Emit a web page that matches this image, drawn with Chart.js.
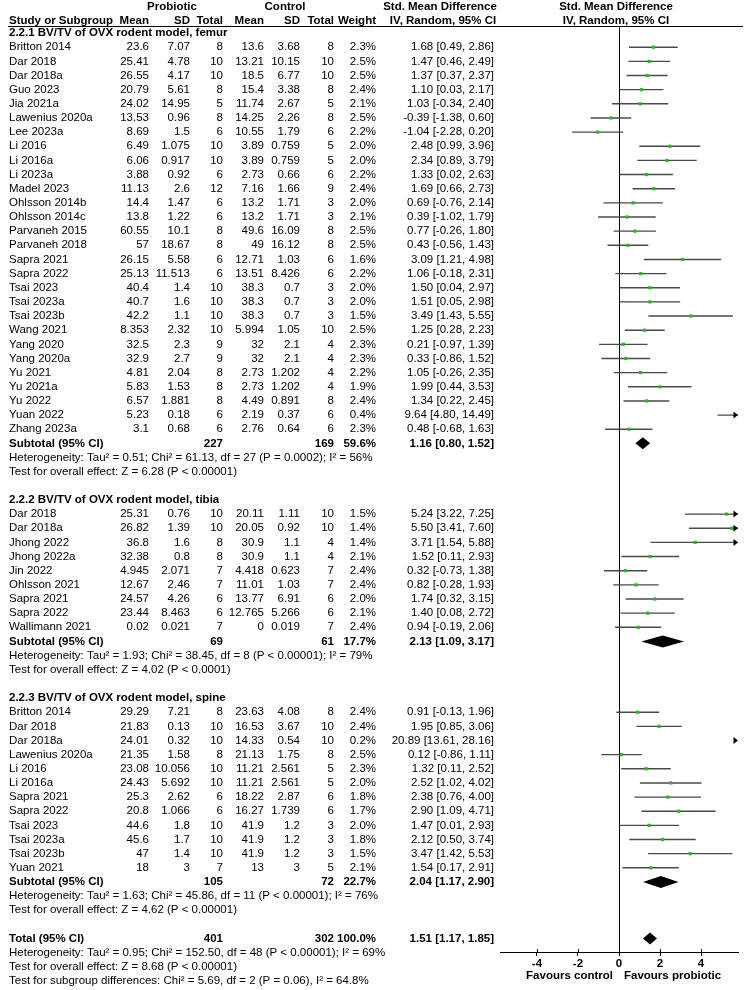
<!DOCTYPE html>
<html>
<head>
<meta charset="utf-8">
<script src="https://cdn.jsdelivr.net/npm/chart.js@4/dist/chart.umd.min.js"></script>
<style>
  html, body { margin: 0; padding: 0; background: #fff; }
  canvas { display: block; }
</style>
</head>
<body>
<canvas id="forest" width="749" height="990"></canvas>
<script>
// ---- values ----
const subgroupTitles = ["2.2.1 BV/TV of OVX rodent model, femur", "2.2.2 BV/TV of OVX rodent model, tibia", "2.2.3 BV/TV of OVX rodent model, spine"];

const femurStudy = ["Britton 2014", "Dar 2018", "Dar 2018a", "Guo 2023", "Jia 2021a", "Lawenius 2020a", "Lee 2023a", "Li 2016", "Li 2016a", "Li 2023a", "Madel 2023", "Ohlsson 2014b", "Ohlsson 2014c", "Parvaneh 2015", "Parvaneh 2018", "Sapra 2021", "Sapra 2022", "Tsai 2023", "Tsai 2023a", "Tsai 2023b", "Wang 2021", "Yang 2020", "Yang 2020a", "Yu 2021", "Yu 2021a", "Yu 2022", "Yuan 2022", "Zhang 2023a"];
const femurProbMean = [23.6, 25.41, 26.55, 20.79, 24.02, 13.53, 8.69, 6.49, 6.06, 3.88, 11.13, 14.4, 13.8, 60.55, 57, 26.15, 25.13, 40.4, 40.7, 42.2, 8.353, 32.5, 32.9, 4.81, 5.83, 6.57, 5.23, 3.1];
const femurProbSD = [7.07, 4.78, 4.17, 5.61, 14.95, 0.96, 1.5, 1.075, 0.917, 0.92, 2.6, 1.47, 1.22, 10.1, 18.67, 5.58, 11.513, 1.4, 1.6, 1.1, 2.32, 2.3, 2.7, 2.04, 1.53, 1.881, 0.18, 0.68];
const femurProbN = [8, 10, 10, 8, 5, 8, 6, 10, 10, 6, 12, 6, 6, 8, 8, 6, 6, 10, 10, 10, 10, 9, 9, 8, 8, 8, 6, 6];
const femurCtrlMean = [13.6, 13.21, 18.5, 15.4, 11.74, 14.25, 10.55, 3.89, 3.89, 2.73, 7.16, 13.2, 13.2, 49.6, 49, 12.71, 13.51, 38.3, 38.3, 38.3, 5.994, 32, 32, 2.73, 2.73, 4.49, 2.19, 2.76];
const femurCtrlSD = [3.68, 10.15, 6.77, 3.38, 2.67, 2.26, 1.79, 0.759, 0.759, 0.66, 1.66, 1.71, 1.71, 16.09, 16.12, 1.03, 8.426, 0.7, 0.7, 0.7, 1.05, 2.1, 2.1, 1.202, 1.202, 0.891, 0.37, 0.64];
const femurCtrlN = [8, 10, 10, 8, 5, 8, 6, 5, 5, 6, 9, 3, 3, 8, 8, 6, 6, 3, 3, 3, 10, 4, 4, 4, 4, 8, 6, 6];
const femurWeight = [2.3, 2.5, 2.5, 2.4, 2.1, 2.5, 2.2, 2.0, 2.0, 2.2, 2.4, 2.0, 2.1, 2.5, 2.5, 1.6, 2.2, 2.0, 2.0, 1.5, 2.5, 2.3, 2.3, 2.2, 1.9, 2.4, 0.4, 2.3];
const femurSMD = [1.68, 1.47, 1.37, 1.10, 1.03, -0.39, -1.04, 2.48, 2.34, 1.33, 1.69, 0.69, 0.39, 0.77, 0.43, 3.09, 1.06, 1.50, 1.51, 3.49, 1.25, 0.21, 0.33, 1.05, 1.99, 1.34, 9.64, 0.48];
const femurLow = [0.49, 0.46, 0.37, 0.03, -0.34, -1.38, -2.28, 0.99, 0.89, 0.02, 0.66, -0.76, -1.02, -0.26, -0.56, 1.21, -0.18, 0.04, 0.05, 1.43, 0.28, -0.97, -0.86, -0.26, 0.44, 0.22, 4.80, -0.68];
const femurHigh = [2.86, 2.49, 2.37, 2.17, 2.40, 0.60, 0.20, 3.96, 3.79, 2.63, 2.73, 2.14, 1.79, 1.80, 1.43, 4.98, 2.31, 2.97, 2.98, 5.55, 2.23, 1.39, 1.52, 2.35, 3.53, 2.45, 14.49, 1.63];

const tibiaStudy = ["Dar 2018", "Dar 2018a", "Jhong 2022", "Jhong 2022a", "Jin 2022", "Ohlsson 2021", "Sapra 2021", "Sapra 2022", "Wallimann 2021"];
const tibiaProbMean = [25.31, 26.82, 36.8, 32.38, 4.945, 12.67, 24.57, 23.44, 0.02];
const tibiaProbSD = [0.76, 1.39, 1.6, 0.8, 2.071, 2.46, 4.26, 8.463, 0.021];
const tibiaProbN = [10, 10, 8, 8, 7, 7, 6, 6, 7];
const tibiaCtrlMean = [20.11, 20.05, 30.9, 30.9, 4.418, 11.01, 13.77, 12.765, 0];
const tibiaCtrlSD = [1.11, 0.92, 1.1, 1.1, 0.623, 1.03, 6.91, 5.266, 0.019];
const tibiaCtrlN = [10, 10, 4, 4, 7, 7, 6, 6, 7];
const tibiaWeight = [1.5, 1.4, 1.4, 2.1, 2.4, 2.4, 2.0, 2.1, 2.4];
const tibiaSMD = [5.24, 5.50, 3.71, 1.52, 0.32, 0.82, 1.74, 1.40, 0.94];
const tibiaLow = [3.22, 3.41, 1.54, 0.11, -0.73, -0.28, 0.32, 0.08, -0.19];
const tibiaHigh = [7.25, 7.60, 5.88, 2.93, 1.38, 1.93, 3.15, 2.72, 2.06];

const spineStudy = ["Britton 2014", "Dar 2018", "Dar 2018a", "Lawenius 2020a", "Li 2016", "Li 2016a", "Sapra 2021", "Sapra 2022", "Tsai 2023", "Tsai 2023a", "Tsai 2023b", "Yuan 2021"];
const spineProbMean = [29.29, 21.83, 24.01, 21.35, 23.08, 24.43, 25.3, 20.8, 44.6, 45.6, 47, 18];
const spineProbSD = [7.21, 0.13, 0.32, 1.58, 10.056, 5.692, 2.62, 1.066, 1.8, 1.7, 1.4, 3];
const spineProbN = [8, 10, 10, 8, 10, 10, 6, 6, 10, 10, 10, 7];
const spineCtrlMean = [23.63, 16.53, 14.33, 21.13, 11.21, 11.21, 18.22, 16.27, 41.9, 41.9, 41.9, 13];
const spineCtrlSD = [4.08, 3.67, 0.54, 1.75, 2.561, 2.561, 2.87, 1.739, 1.2, 1.2, 1.2, 3];
const spineCtrlN = [8, 10, 10, 8, 5, 5, 6, 6, 3, 3, 3, 5];
const spineWeight = [2.4, 2.4, 0.2, 2.5, 2.3, 2.0, 1.8, 1.7, 2.0, 1.8, 1.5, 2.1];
const spineSMD = [0.91, 1.95, 20.89, 0.12, 1.32, 2.52, 2.38, 2.90, 1.47, 2.12, 3.47, 1.54];
const spineLow = [-0.13, 0.85, 13.61, -0.86, 0.11, 1.02, 0.76, 1.09, 0.01, 0.50, 1.42, 0.17];
const spineHigh = [1.96, 3.06, 28.16, 1.11, 2.52, 4.02, 4.00, 4.71, 2.93, 3.74, 5.53, 2.91];

const subtotalProbN = [227, 69, 105];
const subtotalCtrlN = [169, 61, 72];
const subtotalWeight = [59.6, 17.7, 22.7];
const subtotalSMD = [1.16, 2.13, 2.04];
const subtotalLow = [0.80, 1.09, 1.17];
const subtotalHigh = [1.52, 3.17, 2.90];
const subtotalHetero = [
    "Heterogeneity: Tau² = 0.51; Chi² = 61.13, df = 27 (P = 0.0002); I² = 56%",
    "Heterogeneity: Tau² = 1.93; Chi² = 38.45, df = 8 (P < 0.00001); I² = 79%",
    "Heterogeneity: Tau² = 1.63; Chi² = 45.86, df = 11 (P < 0.00001); I² = 76%"
];
const subtotalEffect = [
    "Test for overall effect: Z = 6.28 (P < 0.00001)",
    "Test for overall effect: Z = 4.02 (P < 0.0001)",
    "Test for overall effect: Z = 4.62 (P < 0.00001)"
];

const totalProbN = 401;
const totalCtrlN = 302;
const totalWeight = 100.0;
const totalSMD = 1.51;
const totalLow = 1.17;
const totalHigh = 1.85;
const totalNotes = [
    "Heterogeneity: Tau² = 0.95; Chi² = 152.50, df = 48 (P < 0.00001); I² = 69%",
    "Test for overall effect: Z = 8.68 (P < 0.00001)",
    "Test for subgroup differences: Chi² = 5.69, df = 2 (P = 0.06), I² = 64.8%"
];

const xTickValues = [-4, -2, 0, 2, 4];
const xLabelLeft = "Favours control";
const xLabelRight = "Favours probiotic";

// ---- layout ----
const FAMILY = '"Liberation Sans", Arial, sans-serif';
const FSIZE = 11.5;
const X_MIN = -5.8, X_MAX = 5.8;
const ROW_TOP = -1.5, ROW_BOTTOM = 63.95;
const GREEN = "#2fb52f";
const LINE = "#4a4a4a";
// right edges of the numeric columns
const col = { name: 9, pm: 149, psd: 190, pn: 223, cm: 264, csd: 300, cn: 334, w: 376, ci: 494 };

const groups = [
    { study: femurStudy, pm: femurProbMean, psd: femurProbSD, pn: femurProbN, cm: femurCtrlMean, csd: femurCtrlSD, cn: femurCtrlN, w: femurWeight, smd: femurSMD, lo: femurLow, hi: femurHigh },
    { study: tibiaStudy, pm: tibiaProbMean, psd: tibiaProbSD, pn: tibiaProbN, cm: tibiaCtrlMean, csd: tibiaCtrlSD, cn: tibiaCtrlN, w: tibiaWeight, smd: tibiaSMD, lo: tibiaLow, hi: tibiaHigh },
    { study: spineStudy, pm: spineProbMean, psd: spineProbSD, pn: spineProbN, cm: spineCtrlMean, csd: spineCtrlSD, cn: spineCtrlN, w: spineWeight, smd: spineSMD, lo: spineLow, hi: spineHigh }
];

// build the row list (row index = y value on the hidden y scale)
const rows = [];
let r = -1;
groups.forEach((g, gi) => {
    rows.push({ kind: "heading", row: r++, text: subgroupTitles[gi] });
    g.study.forEach((name, i) => {
        rows.push({
            kind: "study", row: r++, name: name,
            cells: [g.pm[i], g.psd[i], g.pn[i], g.cm[i], g.csd[i], g.cn[i]].map(String),
            w: g.w[i], smd: g.smd[i], lo: g.lo[i], hi: g.hi[i]
        });
    });
    rows.push({ kind: "subtotal", row: r++, name: "Subtotal (95% CI)", pn: subtotalProbN[gi], cn: subtotalCtrlN[gi], w: subtotalWeight[gi], smd: subtotalSMD[gi], lo: subtotalLow[gi], hi: subtotalHigh[gi] });
    rows.push({ kind: "note", row: r++, text: subtotalHetero[gi] });
    rows.push({ kind: "note", row: r++, text: subtotalEffect[gi] });
    r++;
});
rows.push({ kind: "subtotal", row: r++, name: "Total (95% CI)", pn: totalProbN, cn: totalCtrlN, w: totalWeight, smd: totalSMD, lo: totalLow, hi: totalHigh });
totalNotes.forEach(t => rows.push({ kind: "note", row: r++, text: t }));

const studyRows = rows.filter(d => d.kind === "study");
const diamondRows = rows.filter(d => d.kind === "subtotal");

const ciData = [];
studyRows.forEach(d => {
    ciData.push({ x: d.lo, y: d.row }, { x: d.hi, y: d.row }, { x: null, y: null });
});
const pointData = studyRows.map(d => ({ x: d.smd, y: d.row }));

function ciText(smd, lo, hi) {
    return smd.toFixed(2) + " [" + lo.toFixed(2) + ", " + hi.toFixed(2) + "]";
}

function put(ctx, s, x, y, align, bold) {
    ctx.font = (bold ? "bold " : "") + FSIZE + "px " + FAMILY;
    ctx.textAlign = align;
    ctx.textBaseline = "middle";
    ctx.fillText(s, x, y);
}

const forestMarks = {
    id: "forestMarks",
    afterDatasetsDraw(chart) {
        const ctx = chart.ctx;
        const xs = chart.scales.x, ys = chart.scales.y;
        const area = chart.chartArea;
        ctx.save();
        // diamonds for pooled estimates
        ctx.fillStyle = "#000";
        diamondRows.forEach(d => {
            const y = ys.getPixelForValue(d.row);
            ctx.beginPath();
            ctx.moveTo(xs.getPixelForValue(d.lo), y);
            ctx.lineTo(xs.getPixelForValue(d.smd), y - 6);
            ctx.lineTo(xs.getPixelForValue(d.hi), y);
            ctx.lineTo(xs.getPixelForValue(d.smd), y + 6);
            ctx.closePath();
            ctx.fill();
        });
        // arrow heads where the interval runs off the scale
        studyRows.filter(d => d.hi > X_MAX).forEach(d => {
            const y = ys.getPixelForValue(d.row);
            const xr = area.right;
            ctx.beginPath();
            ctx.moveTo(xr, y);
            ctx.lineTo(xr - 4.5, y - 3.5);
            ctx.lineTo(xr - 4.5, y + 3.5);
            ctx.closePath();
            ctx.fill();
        });
        ctx.restore();
    },
    afterDraw(chart) {
        const ctx = chart.ctx;
        const xs = chart.scales.x, ys = chart.scales.y;
        const area = chart.chartArea;
        ctx.save();
        ctx.fillStyle = "#000";

        // header
        put(ctx, "Probiotic", 172, 6.5, "center", true);
        put(ctx, "Control", 285, 6.5, "center", true);
        put(ctx, "Std. Mean Difference", 440, 6.5, "center", true);
        put(ctx, "Std. Mean Difference", 616, 6.5, "center", true);
        put(ctx, "Study or Subgroup", col.name, 20.5, "left", true);
        put(ctx, "Mean", col.pm, 20.5, "right", true);
        put(ctx, "SD", col.psd, 20.5, "right", true);
        put(ctx, "Total", col.pn, 20.5, "right", true);
        put(ctx, "Mean", col.cm, 20.5, "right", true);
        put(ctx, "SD", col.csd, 20.5, "right", true);
        put(ctx, "Total", col.cn, 20.5, "right", true);
        put(ctx, "Weight", col.w, 20.5, "right", true);
        put(ctx, "IV, Random, 95% CI", 443, 20.5, "center", true);
        put(ctx, "IV, Random, 95% CI", 616, 20.5, "center", true);
        ctx.strokeStyle = "#000";
        ctx.lineWidth = 1;
        ctx.beginPath();
        ctx.moveTo(8, 26.5);
        ctx.lineTo(743, 26.5);
        ctx.stroke();

        // table body
        const numCols = [col.pm, col.psd, col.pn, col.cm, col.csd, col.cn];
        rows.forEach(d => {
            const y = ys.getPixelForValue(d.row);
            if (d.kind === "heading") {
                put(ctx, d.text, col.name, y, "left", true);
            } else if (d.kind === "note") {
                put(ctx, d.text, col.name, y, "left", false);
            } else if (d.kind === "study") {
                put(ctx, d.name, col.name, y, "left", false);
                d.cells.forEach((c, i) => put(ctx, c, numCols[i], y, "right", false));
                put(ctx, d.w.toFixed(1) + "%", col.w, y, "right", false);
                put(ctx, ciText(d.smd, d.lo, d.hi), col.ci, y, "right", false);
            } else if (d.kind === "subtotal") {
                put(ctx, d.name, col.name, y, "left", true);
                put(ctx, String(d.pn), col.pn, y, "right", true);
                put(ctx, String(d.cn), col.cn, y, "right", true);
                put(ctx, d.w.toFixed(1) + "%", col.w, y, "right", true);
                put(ctx, ciText(d.smd, d.lo, d.hi), col.ci, y, "right", true);
            }
        });

        // tick marks poke above the axis line too
        ctx.beginPath();
        xs.ticks.forEach(t => {
            const px = Math.round(xs.getPixelForValue(t.value)) + 0.5;
            ctx.moveTo(px, area.bottom - 3);
            ctx.lineTo(px, area.bottom);
        });
        ctx.stroke();

        // favours labels
        const zero = xs.getPixelForValue(0);
        put(ctx, xLabelLeft, zero - 6, 976, "right", true);
        put(ctx, xLabelRight, zero + 5, 976, "left", true);
        ctx.restore();
    }
};

new Chart(document.getElementById("forest"), {
    type: "scatter",
    data: {
        datasets: [
            {
                label: "SMD",
                data: pointData,
                pointStyle: "rect",
                pointRadius: 2.3,
                backgroundColor: GREEN,
                borderWidth: 0,
                order: 0
            },
            {
                label: "95% CI",
                data: ciData,
                showLine: true,
                spanGaps: false,
                pointRadius: 0,
                borderColor: LINE,
                borderWidth: 1.4,
                order: 1
            }
        ]
    },
    options: {
        responsive: false,
        animation: false,
        devicePixelRatio: 1,
        layout: { padding: { left: 500, right: 11, top: 26, bottom: 0 } },
        plugins: { legend: { display: false }, tooltip: { enabled: false } },
        scales: {
            x: {
                type: "linear",
                min: X_MIN,
                max: X_MAX,
                afterBuildTicks: s => { s.ticks = xTickValues.map(v => ({ value: v })); },
                afterFit: s => { s.height = 38; },
                border: { display: true, color: "#000", width: 1 },
                grid: {
                    color: c => (c.tick && c.tick.value === 0 ? "#000" : "rgba(0,0,0,0)"),
                    tickColor: "#000",
                    tickLength: 4,
                    lineWidth: 1
                },
                ticks: {
                    color: "#000",
                    padding: 1,
                    font: { family: FAMILY, size: FSIZE, weight: "bold" },
                    callback: v => String(v)
                }
            },
            y: {
                type: "linear",
                display: false,
                reverse: true,
                min: ROW_TOP,
                max: ROW_BOTTOM
            }
        }
    },
    plugins: [forestMarks]
});
</script>
</body>
</html>
